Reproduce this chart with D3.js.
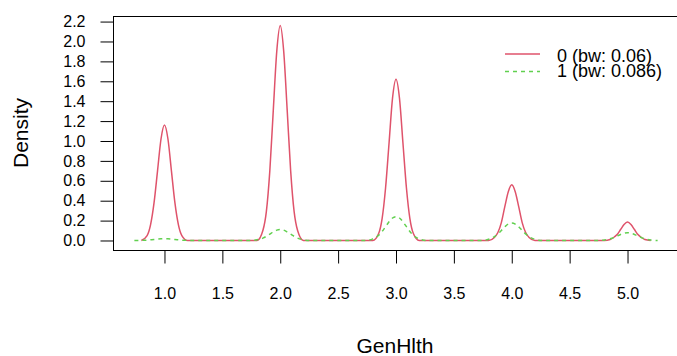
<!DOCTYPE html>
<html>
<head>
<meta charset="utf-8">
<script src="https://cdn.jsdelivr.net/npm/d3@7"></script>
<style>
  body { margin: 0; background: #fff; }
  svg { display: block; font-family: "Liberation Sans", Arial, sans-serif; }
</style>
</head>
<body>
<svg id="chart"></svg>
<script>
// GenHlth density by group
const xGrid = [
  0.74, 0.80, 0.85, 0.88, 0.91, 0.94, 0.97, 1.00, 1.03, 1.06, 1.09, 1.12, 1.15, 1.20, 1.26,
  1.74, 1.80, 1.85, 1.88, 1.91, 1.94, 1.97, 2.00, 2.03, 2.06, 2.09, 2.12, 2.15, 2.20, 2.26,
  2.74, 2.80, 2.85, 2.88, 2.91, 2.94, 2.97, 3.00, 3.03, 3.06, 3.09, 3.12, 3.15, 3.20, 3.26,
  3.74, 3.80, 3.85, 3.88, 3.91, 3.94, 3.97, 4.00, 4.03, 4.06, 4.09, 4.12, 4.15, 4.20, 4.26,
  4.74, 4.80, 4.85, 4.88, 4.91, 4.94, 4.97, 5.00, 5.03, 5.06, 5.09, 5.12, 5.15, 5.20, 5.26
];

const density0 = [
  null, 0, 0.05, 0.16, 0.38, 0.70, 1.02, 1.16, 1.02, 0.70, 0.38, 0.16, 0.05, 0, 0,
  0, 0, 0.10, 0.29, 0.70, 1.31, 1.90, 2.16, 1.90, 1.31, 0.70, 0.29, 0.10, 0, 0,
  0, 0, 0.07, 0.22, 0.53, 0.98, 1.43, 1.62, 1.43, 0.98, 0.53, 0.22, 0.07, 0, 0,
  0, 0, 0.03, 0.08, 0.18, 0.34, 0.49, 0.56, 0.49, 0.34, 0.18, 0.08, 0.03, 0, 0,
  0, 0, 0.01, 0.03, 0.06, 0.11, 0.16, 0.185, 0.16, 0.11, 0.06, 0.03, 0.01, 0, null
];

const density1 = [
  0, 0.001, 0.004, 0.007, 0.010, 0.014, 0.017, 0.018, 0.017, 0.014, 0.010, 0.007, 0.004, 0.001, 0,
  0, 0.007, 0.024, 0.042, 0.064, 0.086, 0.104, 0.110, 0.104, 0.086, 0.064, 0.042, 0.024, 0.007, 0,
  0, 0.016, 0.052, 0.091, 0.139, 0.188, 0.226, 0.240, 0.226, 0.188, 0.139, 0.091, 0.052, 0.016, 0,
  0, 0.012, 0.038, 0.066, 0.101, 0.137, 0.165, 0.175, 0.165, 0.137, 0.101, 0.066, 0.038, 0.012, 0,
  0, 0.005, 0.017, 0.029, 0.045, 0.061, 0.073, 0.078, 0.073, 0.061, 0.045, 0.029, 0.017, 0.005, 0
];

const xTicks = [1.0, 1.5, 2.0, 2.5, 3.0, 3.5, 4.0, 4.5, 5.0];
const yTicks = [0.0, 0.2, 0.4, 0.6, 0.8, 1.0, 1.2, 1.4, 1.6, 1.8, 2.0, 2.2];
const legendLabels = ["0 (bw: 0.06)", "1 (bw: 0.086)"];
const colors = ["#DF536B", "#61D04F"];

const width = 677, height = 356;
const plot = { left: 113.5, right: 678.5, top: 16.5, bottom: 250.5 };

const svg = d3.select("#chart")
  .attr("width", width)
  .attr("height", height);

const x = d3.scaleLinear()
  .domain([0.5596, 5.4404])
  .range([plot.left, plot.right]);

const y = d3.scaleLinear()
  .domain([-0.1005, 2.251])
  .range([plot.bottom, plot.top]);

// y axis
const yAxis = svg.append("g")
  .attr("transform", `translate(${plot.left},0)`)
  .call(d3.axisLeft(y).tickValues(yTicks).tickFormat(d3.format(".1f")).tickSize(13).tickPadding(15));
yAxis.select(".domain").remove();
yAxis.selectAll("text").attr("font-size", 16).attr("fill", "#000").attr("font-family", null);
yAxis.selectAll("line").attr("stroke", "#000");

// x axis
const xAxis = svg.append("g")
  .attr("transform", `translate(0,${plot.bottom})`)
  .call(d3.axisBottom(x).tickValues(xTicks).tickFormat(d3.format(".1f")).tickSize(13).tickPadding(24));
xAxis.select(".domain").remove();
xAxis.selectAll("text").attr("font-size", 16).attr("fill", "#000").attr("font-family", null);
xAxis.selectAll("line").attr("stroke", "#000");

// curves
const rows0 = xGrid.map((v, i) => ({ x: v, y: density0[i] }));
const rows1 = xGrid.map((v, i) => ({ x: v, y: density1[i] }));

const line = d3.line()
  .defined(d => d.y !== null)
  .x(d => x(d.x))
  .y(d => y(d.y))
  .curve(d3.curveMonotoneX);

svg.append("path")
  .datum(rows0)
  .attr("fill", "none")
  .attr("stroke", colors[0])
  .attr("stroke-width", 1.5)
  .attr("d", line);

svg.append("path")
  .datum(rows1)
  .attr("fill", "none")
  .attr("stroke", colors[1])
  .attr("stroke-width", 1.5)
  .attr("stroke-dasharray", "4,4")
  .attr("d", line);

// plot box
svg.append("rect")
  .attr("x", plot.left)
  .attr("y", plot.top)
  .attr("width", plot.right - plot.left)
  .attr("height", plot.bottom - plot.top)
  .attr("fill", "none")
  .attr("stroke", "#000");

// axis titles
svg.append("text")
  .attr("x", 395)
  .attr("y", 353)
  .attr("text-anchor", "middle")
  .attr("font-size", 21)
  .text("GenHlth");

svg.append("text")
  .attr("transform", "translate(28,133) rotate(-90)")
  .attr("text-anchor", "middle")
  .attr("font-size", 21)
  .text("Density");

// legend
const legend = svg.append("g");
legendLabels.forEach((label, i) => {
  const ly = 54 + i * 17.5;
  legend.append("line")
    .attr("x1", 505).attr("x2", 540)
    .attr("y1", ly).attr("y2", ly)
    .attr("stroke", colors[i])
    .attr("stroke-width", 1.5)
    .attr("stroke-dasharray", i === 1 ? "4,4" : null);
  legend.append("text")
    .attr("x", 557)
    .attr("y", 61.5 + i * 15)
    .attr("font-size", 18)
    .text(label);
});
</script>
</body>
</html>
